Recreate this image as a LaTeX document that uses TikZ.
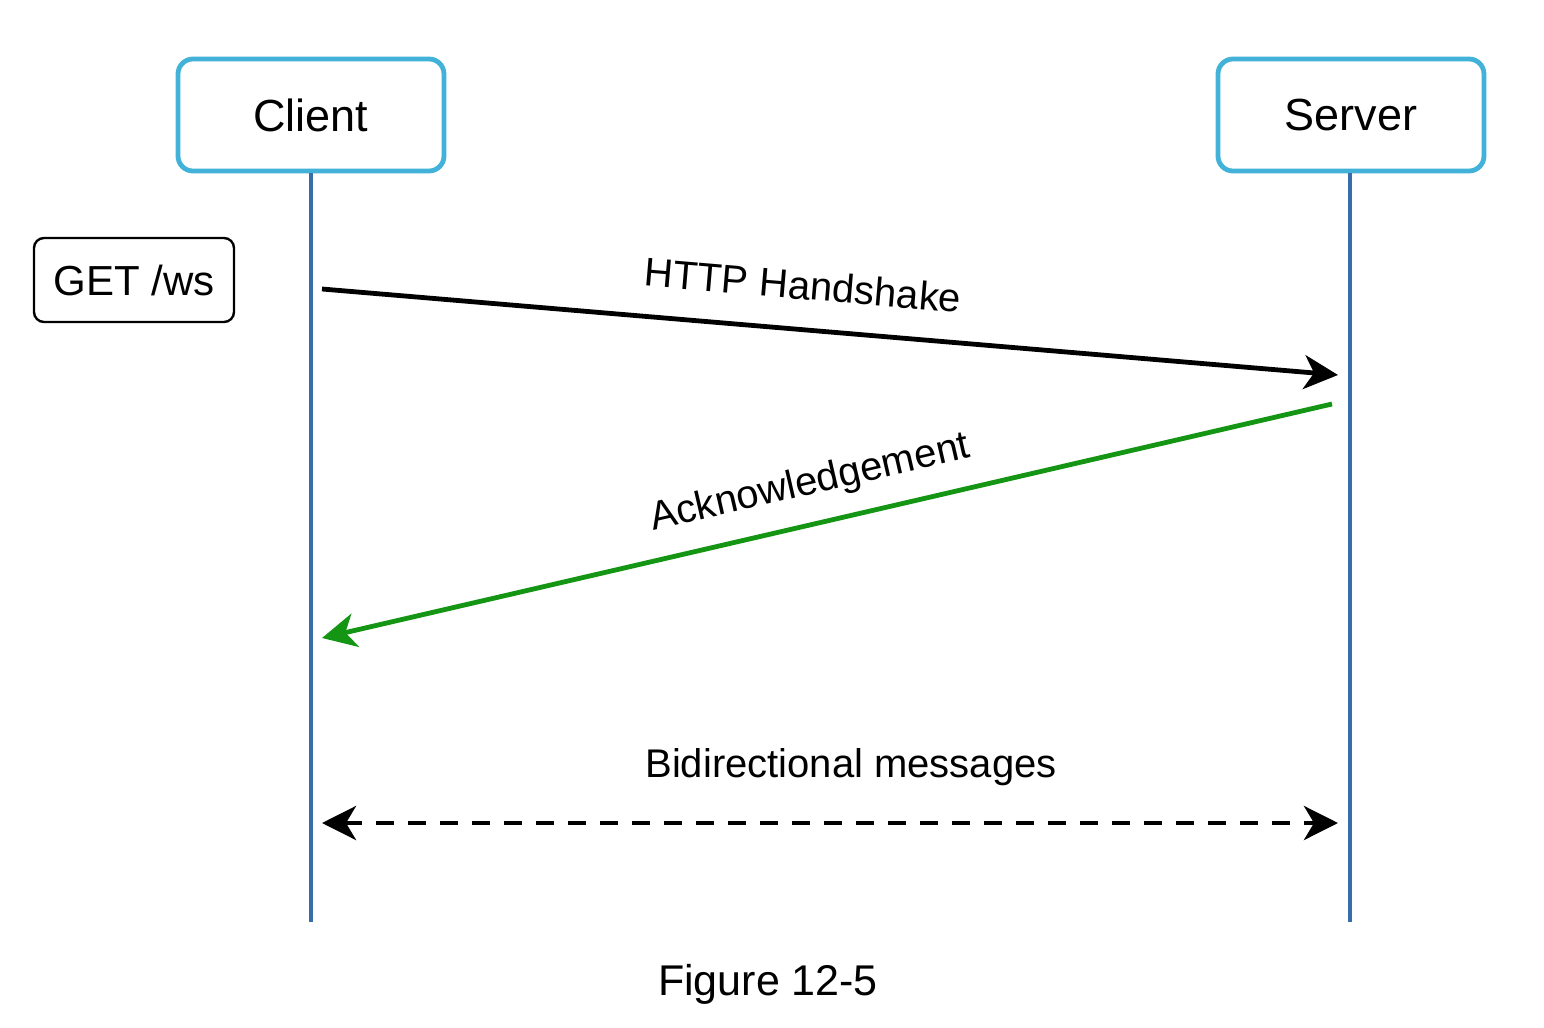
\documentclass[tikz,border=0pt]{standalone}
\usepackage{fontspec}
\setmainfont{Liberation Sans}
\usetikzlibrary{arrows.meta}
\definecolor{boxblue}{RGB}{66,178,216}
\definecolor{lifeblue}{RGB}{56,110,168}
\definecolor{ackgreen}{RGB}{20,150,20}
\tikzset{
  actor/.style={draw=boxblue, line width=2.4pt, rounded corners=7.5pt, fill=white,
    minimum width=133pt, minimum height=56pt, font=\fontsize{22.5}{26}\selectfont},
  cmdbox/.style={draw=black, line width=1.2pt, rounded corners=5pt, fill=white,
    minimum width=100pt, minimum height=42pt, font=\fontsize{21}{25}\selectfont},
  lifeline/.style={draw=lifeblue, line width=2.2pt},
  tip/.style={-{Stealth[length=17pt,width=17pt,inset=5pt]}},
  msg/.style={line width=2.4pt},
  lbl/.style={font=\fontsize{20}{24}\selectfont, inner sep=0pt}
}
\begin{document}
\begin{tikzpicture}[x=0.5pt,y=-0.5pt]
\useasboundingbox (0,0) rectangle (1544,1028);
\fill[white] (0,0) rectangle (1544,1028);
% lifeline ends
\coordinate (cend) at (311,922);
\coordinate (send) at (1350,922);
\node[actor] (client) at (311,115) {Client};
\node[actor] (server) at (1351,115) {Server};
\draw[lifeline] (client.south) -- (cend);
\draw[lifeline] (server.south -| send) -- (send);
\node[cmdbox] (get) at (134,280) {GET /ws};
% arrow endpoints
\coordinate (h1) at (322,289);
\coordinate (h2) at (1338,375);
\coordinate (a1) at (1332,404);
\coordinate (a2) at (322,638);
\coordinate (b1) at (322,823);
\coordinate (b2) at (1338,823);
\draw[msg, tip] (h1) -- (h2);
\draw[msg, tip, draw=ackgreen, fill=ackgreen] (a1) -- (a2);
\draw[msg, {Stealth[length=17pt,width=17pt,inset=5pt]}-{Stealth[length=17pt,width=17pt,inset=5pt]}, dash pattern=on 9pt off 7pt] (b1) -- (b2);
\node[lbl, rotate=-4.84] (hl) at (803,285) {HTTP Handshake};
\node[lbl, rotate=13] (al) at (810,484) {Acknowledgement};
\node[lbl] (bl) at (851,767) {Bidirectional messages};
\node[lbl, font=\fontsize{21.5}{25}\selectfont] (fig) at (768,984) {Figure 12-5};
\end{tikzpicture}
\end{document}
